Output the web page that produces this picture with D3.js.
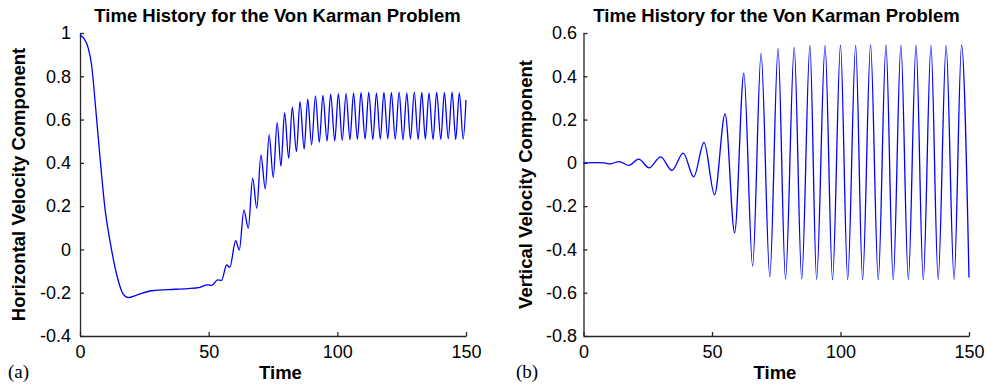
<!DOCTYPE html>
<html>
<head>
<meta charset="utf-8">
<script src="https://cdn.jsdelivr.net/npm/d3@7"></script>
<style>
  body { margin: 0; background: #fff; }
  svg { display: block; }
</style>
</head>
<body>
<div id="chart"></div>
<script>
// Horizontal velocity component
const horizTime = [0, 1.5, 3.2, 4.5, 6.1, 7.8, 9.7, 11.7, 14.3, 16.8, 18.8, 22, 27.9, 36.9, 42, 46.6, 49.5, 51.2, 53.5, 55,
  57, 58.2, 60.5, 61.9, 63.7, 65.4, 67.1, 68.7, 70.3, 72, 73.5, 75.1, 76.6, 78.1, 79.5, 81.1, 82.5, 84.1, 85.5, 87.1,
  88.5, 90, 91.5, 93, 94.4, 96, 97.4, 99, 100.4, 101.9, 103.4, 104.9, 106.3, 107.8, 109.2, 110.8, 112.2, 113.8, 115.2,
  116.7, 118.1, 119.6, 121, 122.5, 124, 125.5, 127, 128.4, 129.9, 131.4, 132.8, 134.2, 135.6, 137.2, 138.6, 140.2,
  141.6, 143.1, 144.6, 146, 147.4, 148.9, 150]
const horizValue = [0.99, 0.975, 0.93, 0.852, 0.652, 0.421, 0.19, 0.036, -0.118, -0.207, -0.223, -0.211, -0.191, -0.184,
  -0.181, -0.175, -0.164, -0.166, -0.141, -0.143,
  -0.072, -0.083, 0.04, -0.003, 0.182, 0.098, 0.329, 0.19, 0.436, 0.28, 0.529, 0.333, 0.586, 0.385, 0.632, 0.421,
  0.657, 0.452, 0.683, 0.464, 0.694, 0.483, 0.709, 0.495, 0.712, 0.501, 0.718, 0.502, 0.72, 0.505, 0.72, 0.507,
  0.722, 0.509, 0.724, 0.51, 0.725, 0.508, 0.722, 0.51, 0.726, 0.511, 0.724, 0.509, 0.727, 0.506, 0.722, 0.51,
  0.727, 0.508, 0.725, 0.51, 0.722, 0.508, 0.726, 0.509, 0.724, 0.511, 0.727, 0.508, 0.723, 0.51, 0.69]

// Vertical velocity component
const vertTime = [0, 5, 8, 10.2, 13.9, 17.6, 21.5, 25.5, 30, 34.4, 38.8, 42.9, 46.9, 51, 55.1, 58.8, 62.4, 65.8,
  69.1, 72.5, 75.7, 78.6, 82, 84.9, 88.1, 90.7, 94, 96.9, 100, 102.8, 105.9, 108.6, 111.7, 114.7, 117.7, 120.5,
  123.5, 126.4, 129.4, 132.2, 135.2, 138, 141.1, 144.2, 147.1, 150]
const vertValue = [0, 0.001, 0, -0.005, 0.006, -0.012, 0.017, -0.023, 0.028, -0.035, 0.045, -0.065, 0.094, -0.148,
  0.226, -0.323, 0.414, -0.477, 0.506, -0.526, 0.528, -0.537, 0.534, -0.537, 0.541, -0.538, 0.541, -0.54, 0.544,
  -0.539, 0.543, -0.54, 0.545, -0.54, 0.545, -0.54, 0.543, -0.539, 0.544, -0.54, 0.543, -0.539, 0.541, -0.538,
  0.545, -0.53]

const xTicks = [0, 50, 100, 150]
const horizTicks = [-0.4, -0.2, 0, 0.2, 0.4, 0.6, 0.8, 1]
const vertTicks = [-0.8, -0.6, -0.4, -0.2, 0, 0.2, 0.4, 0.6]

const titleText = "Time History for the Von Karman Problem"

const width = 986
const height = 386

const svg = d3.select("#chart").append("svg")
  .attr("width", width)
  .attr("height", height)
  .style("background", "#fff")

const panels = [
  {
    time: horizTime, values: horizValue, yTicks: horizTicks,
    left: 80, right: 466, labelGap: 9,
    ylabel: "Horizontal Velocity Component", ylabelX: 25,
    titleX: 277.5, xlabelX: 280.5, tag: "(a)", tagX: 8
  },
  {
    time: vertTime, values: vertValue, yTicks: vertTicks,
    left: 583.5, right: 969, labelGap: 6.5,
    ylabel: "Vertical Velocity Component", ylabelX: 531.5,
    titleX: 776.5, xlabelX: 775, tag: "(b)", tagX: 516
  }
]

const plotTop = 33
const plotBottom = 336
const sans = "'Liberation Sans', Arial, Helvetica, sans-serif"

panels.forEach(p => drawPanel(p))

function drawPanel(p) {
  const x = d3.scaleLinear().domain([0, 150]).range([p.left, p.right])
  const y = d3.scaleLinear().domain(d3.extent(p.yTicks)).range([plotBottom, plotTop])

  const g = svg.append("g")

  // Axes: inward ticks, no box
  const xAxis = d3.axisBottom(x)
    .tickValues(xTicks)
    .tickSizeInner(-4)
    .tickSizeOuter(0)
    .tickPadding(8)
    .tickFormat(d3.format("d"))

  g.append("g")
    .attr("transform", `translate(0, ${plotBottom})`)
    .call(xAxis)
    .call(a => a.selectAll("text")
      .attr("y", 21.5)
      .attr("dy", 0)
      .style("font-family", sans)
      .style("font-size", "18px")
      .style("fill", "#000"))

  const yAxis = d3.axisLeft(y)
    .tickValues(p.yTicks)
    .tickSizeInner(-4)
    .tickSizeOuter(0)
    .tickPadding(p.labelGap)
    .tickFormat(d => String(+d.toFixed(1)))

  g.append("g")
    .attr("transform", `translate(${p.left}, 0)`)
    .call(yAxis)
    .call(a => a.selectAll("text")
      .attr("x", -p.labelGap)
      .style("font-family", sans)
      .style("font-size", "18px")
      .style("fill", "#000"))

  g.selectAll(".domain, .tick line")
    .style("stroke", "#262626")
    .style("stroke-width", 1.3)

  // Series
  const points = p.time.map((t, i) => [t, p.values[i]])
  const line = d3.line()
    .x(d => x(d[0]))
    .y(d => y(d[1]))
    .curve(d3.curveMonotoneX)

  g.append("path")
    .datum(points)
    .attr("d", line)
    .attr("fill", "none")
    .attr("stroke", "#0000ff")
    .attr("stroke-width", 1.3)
    .attr("stroke-linejoin", "round")

  // Labels
  g.append("text")
    .attr("x", p.titleX)
    .attr("y", 22)
    .attr("text-anchor", "middle")
    .style("font-family", sans)
    .style("font-weight", "bold")
    .style("font-size", "18.5px")
    .text(titleText)

  g.append("text")
    .attr("x", p.xlabelX)
    .attr("y", 378.5)
    .attr("text-anchor", "middle")
    .style("font-family", sans)
    .style("font-weight", "bold")
    .style("font-size", "18.5px")
    .text("Time")

  g.append("text")
    .attr("transform", `translate(${p.ylabelX}, ${(plotTop + plotBottom) / 2}) rotate(-90)`)
    .attr("text-anchor", "middle")
    .style("font-family", sans)
    .style("font-weight", "bold")
    .style("font-size", "18.5px")
    .text(p.ylabel)

  g.append("text")
    .attr("x", p.tagX)
    .attr("y", 377.5)
    .style("font-family", "'Liberation Serif', 'Times New Roman', serif")
    .style("font-size", "19px")
    .text(p.tag)
}
</script>
</body>
</html>
